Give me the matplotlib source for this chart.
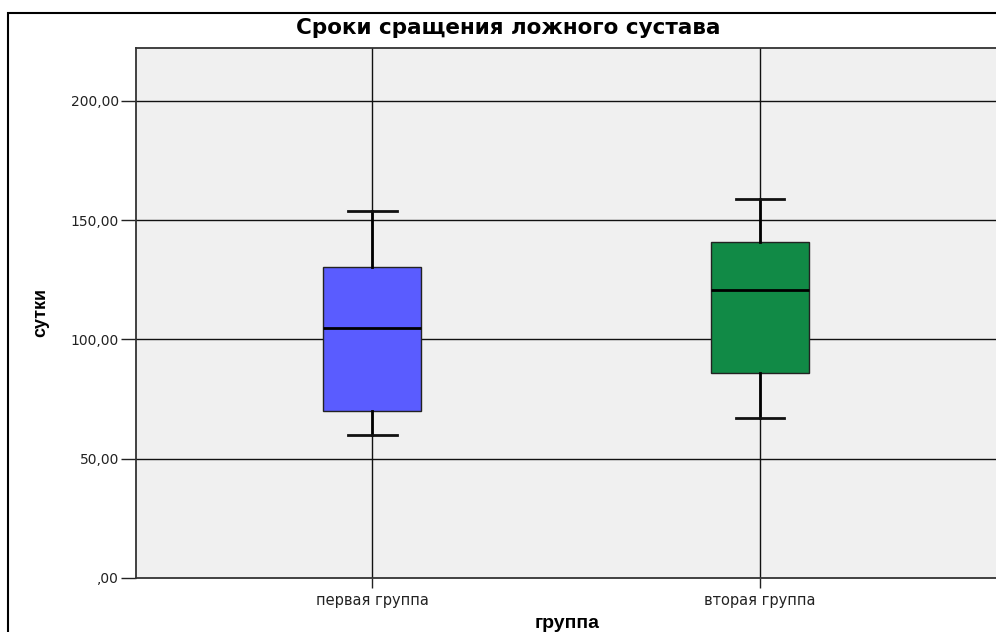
import matplotlib
matplotlib.use("Agg")
import matplotlib.pyplot as plt
from matplotlib.patches import Rectangle

# Data
groups = ["первая группа", "вторая группа"]
whisker_low = [59.9, 67.0]
q1 = [70.1, 85.8]
median = [104.6, 120.6]
q3 = [130.4, 141.0]
whisker_high = [154.0, 159.0]
colors = ["#5a5cff", "#118a46"]
y_ticks = [0, 50, 100, 150, 200]
y_tick_labels = [",00", "50,00", "100,00", "150,00", "200,00"]

plt.rcParams["font.family"] = ["DejaVu Sans"]

W, H = 996, 632
fig = plt.figure(figsize=(W / 100, H / 100), dpi=100)
fig.patch.set_facecolor("white")

# outer frame around the whole chart
fig.patches.append(Rectangle((8 / W, -0.1), 1.2, (H - 13) / H + 0.1,
                             transform=fig.transFigure, fill=False,
                             edgecolor="black", linewidth=1.5, zorder=0))

ax = fig.add_axes([135.7 / W, 54.3 / H, 861 / W, 529.7 / H])
ax.set_facecolor("#f0f0f0")

positions = [1, 2]
ax.set_xlim(0.39, 2.61)
ax.set_ylim(0, 222.2)

# grid lines
for y in y_ticks[1:]:
    ax.axhline(y, color="#111111", linewidth=1.0, zorder=1)
for x in positions:
    ax.axvline(x, color="#111111", linewidth=1.0, zorder=1)

stats = []
for i in range(len(groups)):
    stats.append({"whislo": whisker_low[i], "q1": q1[i], "med": median[i],
                  "q3": q3[i], "whishi": whisker_high[i], "label": groups[i]})

bp = ax.bxp(stats, positions=positions, widths=0.252, patch_artist=True,
            showfliers=False, manage_ticks=False,
            boxprops=dict(edgecolor="#222222", linewidth=1.0),
            medianprops=dict(color="black", linewidth=2.0),
            whiskerprops=dict(color="black", linewidth=2.0),
            capprops=dict(color="#111111", linewidth=2.0),
            capwidths=0.125, zorder=3)
for patch, c in zip(bp["boxes"], colors):
    patch.set_facecolor(c)

ax.set_xticks(positions)
ax.set_xticklabels(groups, fontsize=10.5, color="#222222")
ax.set_yticks(y_ticks)
ax.set_yticklabels(y_tick_labels, fontsize=10, color="#222222")
ax.tick_params(axis="y", length=11, width=1.0, color="#222222", pad=1)
ax.tick_params(axis="x", length=7, width=1.0, color="#222222", pad=4)

for side in ["left", "bottom", "top"]:
    ax.spines[side].set_color("#333333")
    ax.spines[side].set_linewidth(1.3)
ax.spines["right"].set_visible(False)

ax.set_ylabel("сутки", fontsize=13, fontweight="bold",
              family=["Liberation Sans", "DejaVu Sans"])
ax.yaxis.set_label_coords((49 - 135.7) / 861, 0.5)
fig.text(567 / W, 1 - 628 / H, "группа", ha="center", va="baseline",
         fontsize=14, fontweight="bold", family=["Liberation Sans", "DejaVu Sans"])
fig.text(508 / W, 1 - 28 / H, "Сроки сращения ложного сустава",
         ha="center", va="center", fontsize=15.5, fontweight="bold")

fig.savefig("out.png", dpi=100)
